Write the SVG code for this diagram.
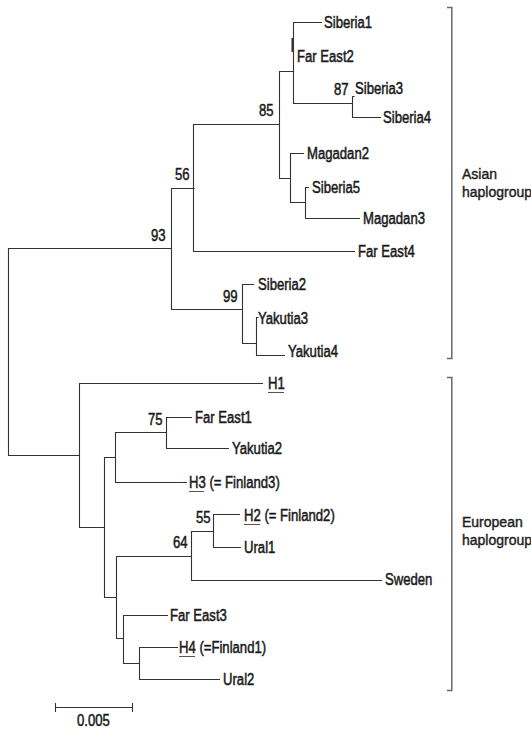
<svg xmlns="http://www.w3.org/2000/svg" width="531" height="729" viewBox="0 0 531 729">
<style>
.t{font-family:"Liberation Sans",Arial,sans-serif;font-size:16px;fill:#1a1a1a;stroke:#1a1a1a;stroke-width:0.5}
.g{font-family:"Liberation Sans",Arial,sans-serif;font-size:14px;fill:#1e1e1e;stroke:#1e1e1e;stroke-width:0.4}
.e{fill:none;stroke:#333;stroke-width:1.1}
.b{fill:none;stroke:#6a6a6a;stroke-width:1.5}
.u{stroke:#555;stroke-width:1}
</style>
<rect width="531" height="729" fill="#fff"/>
<g id="connectors">
<path class="e" d="M8.5,248V455.5M8,248.5H171.5M8,455.5H79.5
M171.5,188V309M171,188.5H194.5M171,309.5H242.5
M193.5,124V251M193,124.5H279.5M193,251.5H355
M279.5,71V178M279,71.5H293.5M279,178.5H290.5
M293.5,22V103M293,22.5H322M293,103.5H352.5
M352.5,96V117M352,96.5H354.5M352,117.5H381
M290.5,153V202M290,153.5H304M290,202.5H305.5
M305.5,187V218M305,187.5H309M305,218.5H360
M242.5,284V343M242,284.5H254M242,343.5H256.5
M256.5,317V355M256,317.5H258.5M256,355.5H285
M79.5,383V527M79,383.5H263M79,527.5H104.5
M104.5,457V597M104,457.5H115.5M104,597.5H116.5
M115.5,432V482M115,432.5H166.5M115,482.5H187
M166.5,417V448M166,417.5H192M166,448.5H229
M116.5,556V638M116,556.5H191.5M116,638.5H123.5
M191.5,531V580M191,531.5H213.5M191,580.5H382
M213.5,514V547M213,514.5H240M213,547.5H241
M123.5,615V663M123,615.5H168M123,663.5H139.5
M139.5,647V679M139,647.5H178M139,679.5H220"/>
<path d="M292.2,38V52" stroke="#222" stroke-width="1.4"/>
</g>
<g id="leaf-siberia1"><text class="t" transform="translate(324,28) scale(0.82 1)">Siberia1</text></g>
<g id="leaf-fareast2"><text class="t" transform="translate(297,62) scale(0.82 1)">Far East2</text></g>
<g id="leaf-siberia3"><text class="t" transform="translate(355,94) scale(0.82 1)">Siberia3</text></g>
<g id="leaf-siberia4"><text class="t" transform="translate(383,123) scale(0.82 1)">Siberia4</text></g>
<g id="leaf-magadan2"><text class="t" transform="translate(307,159) scale(0.82 1)">Magadan2</text></g>
<g id="leaf-siberia5"><text class="t" transform="translate(312,193) scale(0.82 1)">Siberia5</text></g>
<g id="leaf-magadan3"><text class="t" transform="translate(363,224) scale(0.82 1)">Magadan3</text></g>
<g id="leaf-fareast4"><text class="t" transform="translate(358,257) scale(0.82 1)">Far East4</text></g>
<g id="leaf-siberia2"><text class="t" transform="translate(258,290) scale(0.82 1)">Siberia2</text></g>
<g id="leaf-yakutia3"><text class="t" transform="translate(258,324) scale(0.82 1)">Yakutia3</text></g>
<g id="leaf-yakutia4"><text class="t" transform="translate(288,357) scale(0.82 1)">Yakutia4</text></g>
<g id="leaf-h1"><text class="t" transform="translate(268,389) scale(0.82 1)">H1</text><line class="u" x1="268" y1="392.5" x2="284" y2="392.5"/></g>
<g id="leaf-fareast1"><text class="t" transform="translate(195,423) scale(0.82 1)">Far East1</text></g>
<g id="leaf-yakutia2"><text class="t" transform="translate(232,454) scale(0.82 1)">Yakutia2</text></g>
<g id="leaf-h3"><text class="t" transform="translate(189,488) scale(0.82 1)">H3 (= Finland3)</text><line class="u" x1="189" y1="491.5" x2="204" y2="491.5"/></g>
<g id="leaf-h2"><text class="t" transform="translate(244,521) scale(0.82 1)">H2 (= Finland2)</text><line class="u" x1="244" y1="524.5" x2="260" y2="524.5"/></g>
<g id="leaf-ural1"><text class="t" transform="translate(244,553) scale(0.82 1)">Ural1</text></g>
<g id="leaf-sweden"><text class="t" transform="translate(385,585) scale(0.82 1)">Sweden</text></g>
<g id="leaf-fareast3"><text class="t" transform="translate(170,621) scale(0.82 1)">Far East3</text></g>
<g id="leaf-h4"><text class="t" transform="translate(179,653) scale(0.82 1)">H4 (=Finland1)</text><line class="u" x1="179" y1="656.5" x2="195" y2="656.5"/></g>
<g id="leaf-ural2"><text class="t" transform="translate(223,685) scale(0.82 1)">Ural2</text></g>
<g id="node-87"><text class="t" transform="translate(334,95) scale(0.82 1)">87</text></g>
<g id="node-85"><text class="t" transform="translate(259,116) scale(0.82 1)">85</text></g>
<g id="node-56"><text class="t" transform="translate(175,180) scale(0.82 1)">56</text></g>
<g id="node-93"><text class="t" transform="translate(151,241) scale(0.82 1)">93</text></g>
<g id="node-99"><text class="t" transform="translate(223,302) scale(0.82 1)">99</text></g>
<g id="node-75"><text class="t" transform="translate(148,425) scale(0.82 1)">75</text></g>
<g id="node-55"><text class="t" transform="translate(196,523) scale(0.82 1)">55</text></g>
<g id="node-64"><text class="t" transform="translate(173,548) scale(0.82 1)">64</text></g>
<g id="group-asian">
<path class="b" d="M447,7.5H451.8V358.5H447"/>
<text class="g" x="462" y="179">Asian</text>
<text class="g" x="462" y="197">haplogroup</text>
</g>
<g id="group-european">
<path class="b" d="M447,377.5H451.8V690.5H447"/>
<text class="g" x="462" y="527">European</text>
<text class="g" x="462" y="545">haplogroup</text>
</g>
<g id="scale-bar">
<path class="e" d="M55,707.5H133M55.5,703V712M132.5,703V712"/>
<text class="t" transform="translate(77,726) scale(0.82 1)">0.005</text>
</g>
</svg>
